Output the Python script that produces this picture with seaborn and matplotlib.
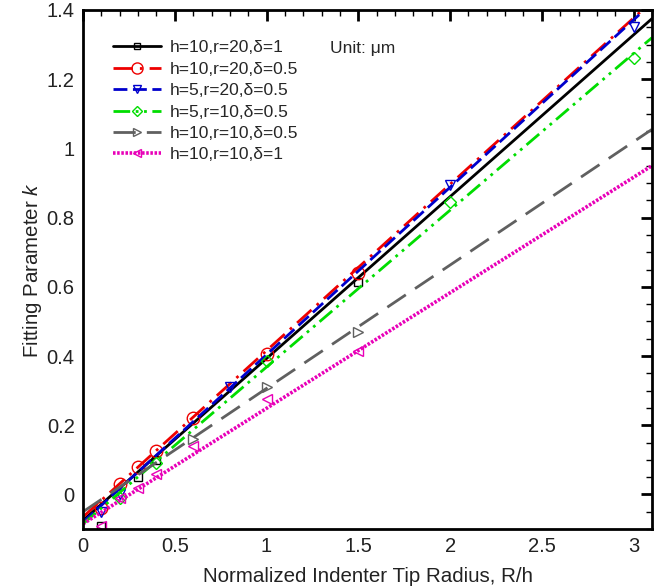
import matplotlib as mpl
mpl.use('Agg')
import matplotlib.pyplot as plt
from matplotlib.lines import Line2D
from matplotlib.ticker import MultipleLocator
import seaborn as sns
import pandas as pd

sns.set_style('white')
plt.rcParams['font.family'] = ['Liberation Sans', 'DejaVu Sans']
plt.rcParams['mathtext.fontset'] = 'custom'
plt.rcParams['mathtext.it'] = 'Liberation Sans:italic'

labels = ['h=10,r=20,δ=1', 'h=10,r=20,δ=0.5', 'h=5,r=20,δ=0.5',
          'h=5,r=10,δ=0.5', 'h=10,r=10,δ=0.5', 'h=10,r=10,δ=1']

# fitted lines, k at R/h = 0 and 3.1
x_line = [0.0, 3.1]
k_line = [
    [-0.075, 1.375],
    [-0.065, 1.425],
    [-0.080, 1.420],
    [-0.085, 1.320],
    [-0.050, 1.055],
    [-0.085, 0.950],
]

# simulation points (only those visible in the figure)
x_pts = [
    [0.1, 0.3, 0.4, 1.5],
    [0.1, 0.2, 0.3, 0.4, 0.6, 1.0, 1.5],
    [0.1, 0.2, 0.8, 2.0, 3.0],
    [0.2, 0.4, 1.0, 2.0, 3.0],
    [0.6, 1.0, 1.5],
    [0.1, 0.2, 0.3, 0.4, 0.6, 1.0, 1.5],
]
k_pts = [
    [-0.09, 0.05, 0.10, 0.615],
    [-0.04, 0.03, 0.08, 0.125, 0.22, 0.405, 0.64],
    [-0.05, 0.00, 0.31, 0.895, 1.35],
    [-0.01, 0.09, 0.385, 0.846, 1.26],
    [0.16, 0.31, 0.47],
    [-0.09, -0.01, 0.02, 0.06, 0.14, 0.275, 0.415],
]

colors = ['black', '#ee0000', '#0000cc', '#00dd00', '#606060', '#e800b8']
markers = ['s', 'o', 'v', 'D', '>', '<']
msizes = [6, 9, 7, 6, 7, 7]
dashes = [None, (7, 2.5, 1, 2.5), (5, 2), (6, 2, 1, 2, 1, 2), (8, 4), (0.7, 0.45)]
widths = [2, 2, 2, 2, 2, 2.6]

fig = plt.figure(figsize=(6.68, 5.88), dpi=100)
ax = fig.add_axes([0.1243, 0.1003, 0.8517, 0.8827])

handles = []
for i in range(6):
    dfl = pd.DataFrame({'x': x_line, 'k': k_line[i]})
    sns.lineplot(data=dfl, x='x', y='k', ax=ax, color=colors[i], lw=widths[i])
    ln = ax.get_lines()[-1]
    if dashes[i] is not None:
        ln.set_dashes(dashes[i])
    dfp = pd.DataFrame({'x': x_pts[i], 'k': k_pts[i]})
    ax.plot(dfp['x'], dfp['k'], ls='none', marker=markers[i], ms=msizes[i],
            mfc='none', mec=colors[i], mew=1)
    h = Line2D([], [], color=colors[i], lw=widths[i], marker=markers[i],
               ms=msizes[i] - 1, mfc='none', mec=colors[i], mew=1)
    if dashes[i] is not None:
        h.set_dashes(dashes[i])
    handles.append(h)

ax.legend(handles, labels, loc='upper left', bbox_to_anchor=(0.04, 0.955),
          frameon=False, handlelength=2.8, handletextpad=0.5,
          labelspacing=0.36, borderaxespad=0.0, prop={'size': 12.5})

ax.text(1.345, 1.29, 'Unit: μm', fontsize=12.5, va='center')

ax.set_xlim(0, 3.1)
ax.set_ylim(-0.1, 1.4)
ax.xaxis.set_minor_locator(MultipleLocator(0.1))
ax.yaxis.set_minor_locator(MultipleLocator(0.05))
ax.set_xticks([0, 0.5, 1, 1.5, 2, 2.5, 3])
ax.set_xticklabels(['0', '0.5', '1', '1.5', '2', '2.5', '3'])
ax.set_yticks([0, 0.2, 0.4, 0.6, 0.8, 1.0, 1.2, 1.4])
ax.set_yticklabels(['0', '0.2', '0.4', '0.6', '0.8', '1', '1.2', '1.4'])
ax.tick_params(which='both', direction='in', top=True, right=True,
               labelsize=14.5, colors='black', labelcolor='#222222')
ax.tick_params(which='major', length=8, width=2, pad=6)
ax.tick_params(which='minor', length=4, width=1)
for s in ax.spines.values():
    s.set_linewidth(2)
    s.set_color('black')

ax.set_xlabel('Normalized Indenter Tip Radius, R/h', fontsize=14.8,
              color='#222222', labelpad=8)
ax.set_ylabel('Fitting Parameter $k$', fontsize=14.8, color='#222222',
              labelpad=2)

fig.savefig('out.png', dpi=100)
